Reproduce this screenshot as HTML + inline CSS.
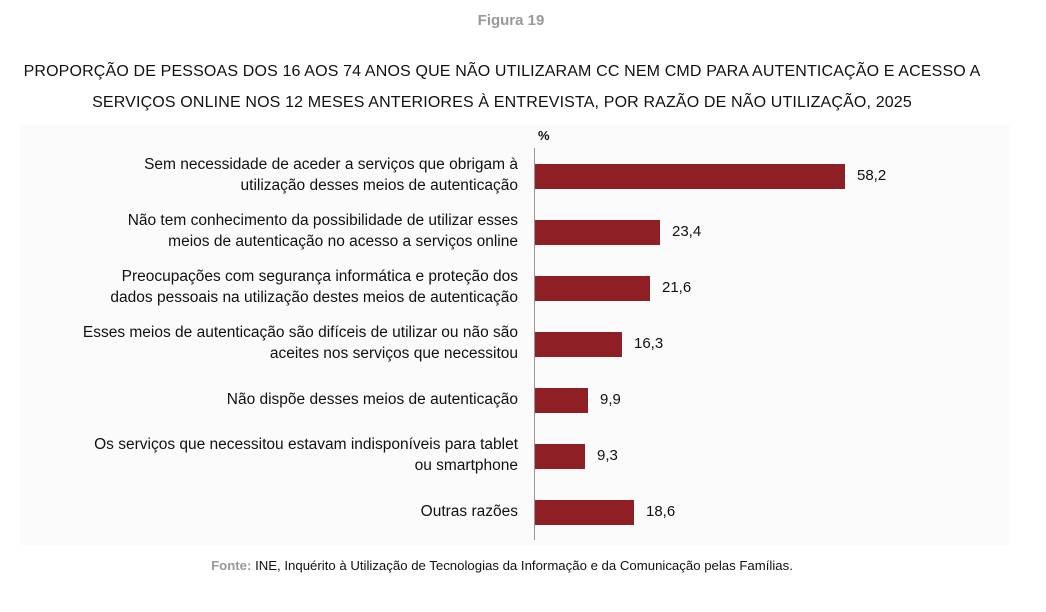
<!DOCTYPE html>
<html><head><meta charset="utf-8"><style>
body{margin:0;width:1046px;height:612px;background:#fff;font-family:"Liberation Sans",sans-serif;position:relative;overflow:hidden;color:#111}
.a{position:absolute}
.lab{position:absolute;right:528px;text-align:right;font-size:15.5px;line-height:21px;white-space:nowrap}
.bar{position:absolute;left:535px;height:25px;background:#8e1f25}
.val{position:absolute;font-size:15px}
</style></head><body>
<div class="a" style="left:0;width:1022px;top:12px;text-align:center;font-size:15px;font-weight:bold;color:#999">Figura 19</div>
<div class="a" style="left:0;width:1004px;top:56px;text-align:center;font-size:16px;line-height:31px;letter-spacing:0.15px">PROPORÇÃO DE PESSOAS DOS 16 AOS 74 ANOS QUE NÃO UTILIZARAM CC NEM CMD PARA AUTENTICAÇÃO E ACESSO A<br>SERVIÇOS ONLINE NOS 12 MESES ANTERIORES À ENTREVISTA, POR RAZÃO DE NÃO UTILIZAÇÃO, 2025</div>
<div class="a" style="left:20px;top:125px;width:990px;height:420px;background:#fbfbfb"></div>
<div class="a" style="left:538px;top:128px;font-size:13px;font-weight:bold">%</div>
<div class="a" style="left:534px;top:148px;width:1px;height:392px;background:#999"></div>

<div class="lab" style="top:154px">Sem necessidade de aceder a serviços que obrigam à<br>utilização desses meios de autenticação</div>
<div class="bar" style="top:164px;width:310px"></div><div class="val" style="left:857px;top:167px">58,2</div>

<div class="lab" style="top:210px">Não tem conhecimento da possibilidade de utilizar esses<br>meios de autenticação no acesso a serviços online</div>
<div class="bar" style="top:220px;width:125px"></div><div class="val" style="left:672px;top:223px">23,4</div>

<div class="lab" style="top:266px">Preocupações com segurança informática e proteção dos<br>dados pessoais na utilização destes meios de autenticação</div>
<div class="bar" style="top:276px;width:115px"></div><div class="val" style="left:662px;top:279px">21,6</div>

<div class="lab" style="top:322px">Esses meios de autenticação são difíceis de utilizar ou não são<br>aceites nos serviços que necessitou</div>
<div class="bar" style="top:332px;width:87px"></div><div class="val" style="left:634px;top:335px">16,3</div>

<div class="lab" style="top:389px">Não dispõe desses meios de autenticação</div>
<div class="bar" style="top:388px;width:53px"></div><div class="val" style="left:600px;top:391px">9,9</div>

<div class="lab" style="top:434px">Os serviços que necessitou estavam indisponíveis para tablet<br>ou smartphone</div>
<div class="bar" style="top:444px;width:50px"></div><div class="val" style="left:597px;top:447px">9,3</div>

<div class="lab" style="top:501px">Outras razões</div>
<div class="bar" style="top:500px;width:99px"></div><div class="val" style="left:646px;top:503px">18,6</div>

<div class="a" style="left:0;width:1004px;top:558px;text-align:center;font-size:13.2px"><b style="color:#999">Fonte:</b> INE, Inquérito à Utilização de Tecnologias da Informação e da Comunicação pelas Famílias.</div>
</body></html>
